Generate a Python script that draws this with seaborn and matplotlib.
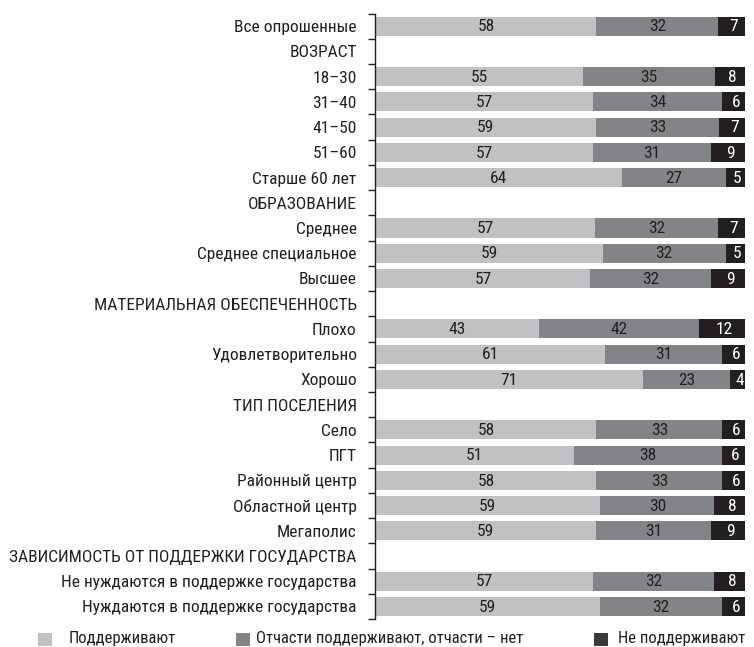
import numpy as np
import pandas as pd
import seaborn as sns
import matplotlib
matplotlib.use("Agg")
import matplotlib.pyplot as plt
from matplotlib.patches import Rectangle

# ---- data ----
categories = [
    "Все опрошенные", "ВОЗРАСТ", "18–30", "31–40", "41–50", "51–60", "Старше 60 лет",
    "ОБРАЗОВАНИЕ", "Среднее", "Среднее специальное", "Высшее",
    "МАТЕРИАЛЬНАЯ ОБЕСПЕЧЕННОСТЬ", "Плохо", "Удовлетворительно", "Хорошо",
    "ТИП ПОСЕЛЕНИЯ", "Село", "ПГТ", "Районный центр", "Областной центр", "Мегаполис",
    "ЗАВИСИМОСТЬ ОТ ПОДДЕРЖКИ ГОСУДАРСТВА",
    "Не нуждаются в поддержке государства", "Нуждаются в поддержке государства",
]
nan = np.nan
support = [58, nan, 55, 57, 59, 57, 64, nan, 57, 59, 57, nan, 43, 61, 71,
           nan, 58, 51, 58, 59, 59, nan, 57, 59]
partly = [32, nan, 35, 34, 33, 31, 27, nan, 32, 32, 32, nan, 42, 31, 23,
          nan, 33, 38, 33, 30, 31, nan, 32, 32]
against = [7, nan, 8, 6, 7, 9, 5, nan, 7, 5, 9, nan, 12, 6, 4,
           nan, 6, 6, 6, 8, 9, nan, 8, 6]
series_names = ["Поддерживают", "Отчасти поддерживают, отчасти – нет", "Не поддерживают"]

colors = ["#c0c1c3", "#838487", "#231f20"]
legend_colors = ["#c0c1c3", "#838487", "#3a3a3a"]
TEXT = "#231f20"

df = pd.DataFrame({"cat": categories, "s": support, "p": partly, "a": against})
total = df[["s", "p", "a"]].sum(axis=1, min_count=1)
# bars are drawn as shares of the answered total, so every bar reaches the same end
df["c1"] = df["s"] / total * 100
df["c2"] = (df["s"] + df["p"]) / total * 100
df["c3"] = (df["s"] + df["p"] + df["a"]) / total * 100

plt.rcParams["font.family"] = ["Roboto Condensed", "Liberation Sans Narrow",
                               "Liberation Sans", "DejaVu Sans"]
FS = 12.5
fig = plt.figure(figsize=(7.54, 6.47), dpi=100)
ax = fig.add_axes([0.498, 0.0433, 0.490, 0.9357])

# stack by overlaying cumulative totals, widest first
for col, color in zip(["c3", "c2", "c1"], colors[::-1]):
    sns.barplot(data=df, x=col, y="cat", order=categories, color=color,
                saturation=1, width=0.755, linewidth=0, orient="h", ax=ax)

n = len(categories)
ax.set_xlim(0, 100)
ax.set_ylim(n - 0.5, -0.5)

# value labels centred in each segment
for i, row in df.iterrows():
    if np.isnan(row["s"]):
        continue
    starts = [0, row["c1"], row["c2"]]
    ends = [row["c1"], row["c2"], row["c3"]]
    vals = [row["s"], row["p"], row["a"]]
    for k in range(3):
        ax.text((starts[k] + ends[k]) / 2 + (0.6 if k == 2 else 0), i + 0.03,
                f"{int(vals[k])}", ha="center", va="center", fontsize=FS,
                color="white" if k == 2 else TEXT)

# axis styling: only the left spine, ticks at row boundaries
for s in ["top", "right", "bottom"]:
    ax.spines[s].set_visible(False)
ax.spines["left"].set_linewidth(1.0)
ax.spines["left"].set_color(TEXT)
ax.set_xticks([])
ax.set_xlabel("")
ax.set_ylabel("")
ax.set_yticks(np.arange(-0.5, n, 1.0), labels=[])
ax.set_yticks(np.arange(n), labels=categories, minor=True)
ax.tick_params(axis="y", which="major", length=5, width=1.0, color=TEXT, direction="out")
ax.tick_params(axis="y", which="minor", length=0, pad=13.5, labelsize=FS, labelcolor=TEXT)

# legend along the bottom (pixel positions of square and text)
legend_pos = [(38, 69), (236, 256), (594, 618)]
for (sx, tx), color, name in zip(legend_pos, legend_colors, series_names):
    fig.add_artist(Rectangle((sx / 754, 1 / 647), 14 / 754, 13 / 647,
                             transform=fig.transFigure, facecolor=color, edgecolor="none"))
    fig.text(tx / 754, 8 / 647, name, ha="left", va="center", fontsize=12, color=TEXT)

fig.savefig("out.png", dpi=100)
